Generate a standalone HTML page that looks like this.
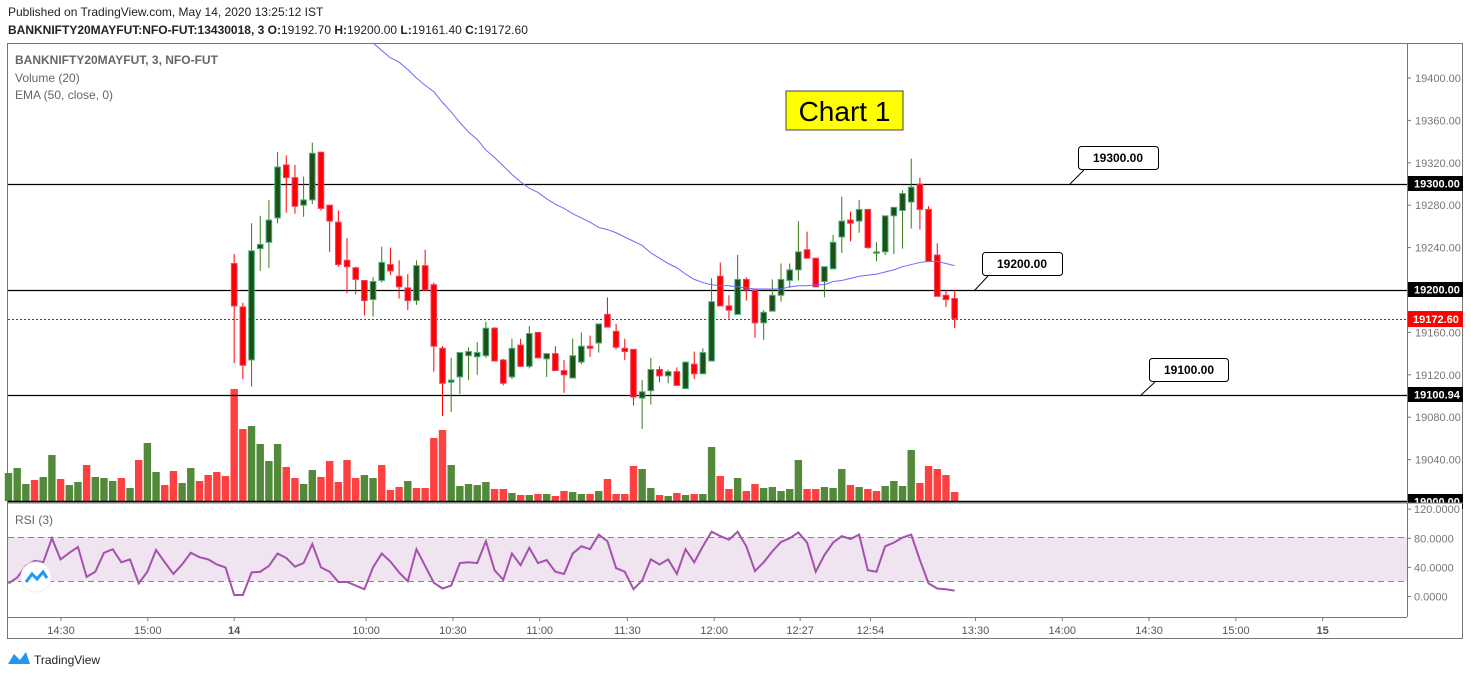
<!DOCTYPE html>
<html><head><meta charset="utf-8">
<style>
body{margin:0;background:#fff;width:1471px;height:678px;overflow:hidden;font-family:"Liberation Sans",sans-serif;}
svg{position:absolute;left:0;top:0}
</style></head>
<body>
<svg id="chart" width="1471" height="678" viewBox="0 0 1471 678" font-family="Liberation Sans, sans-serif">
  <text x="8" y="16" font-size="12" fill="#222">Published on TradingView.com, May 14, 2020 13:25:12 IST</text>
  <text x="8" y="34" font-size="12" font-weight="bold" fill="#222">BANKNIFTY20MAYFUT:NFO-FUT:13430018, 3 <tspan font-weight="bold">O:</tspan><tspan font-weight="normal">19192.70 </tspan>H:<tspan font-weight="normal">19200.00 </tspan>L:<tspan font-weight="normal">19161.40 </tspan>C:<tspan font-weight="normal">19172.60</tspan></text>
  <rect x="7.5" y="43.5" width="1455" height="595" fill="none" stroke="#777" stroke-width="1"/>
  <rect x="8" y="537" width="1399" height="44" fill="#f0e4f1"/>
  <line x1="8" y1="537.5" x2="1407" y2="537.5" stroke="#888" stroke-dasharray="6,4"/>
  <line x1="8" y1="581.5" x2="1407" y2="581.5" stroke="#888" stroke-dasharray="6,4"/>
  <g id="vol"></g>
  <g id="hlines"></g>
  <g id="candles"></g>
  <polyline id="ema" fill="none" stroke="#6a6aff" stroke-width="1"/>
  <polyline id="rsi" fill="none" stroke="#a452ac" stroke-width="2"/>
  <g id="yticks" font-size="11" fill="#777"></g>
  <rect x="1408" y="503.5" width="54" height="113" fill="#fff"/>
  <g id="rticks" font-size="11" fill="#777"></g>
  <g id="xticks" font-size="11" fill="#555"></g>
  <line x1="1407.5" y1="43" x2="1407.5" y2="617" stroke="#777"/>
  <line x1="7" y1="503" x2="1463" y2="503" stroke="#777"/>
  <line x1="7" y1="617.5" x2="1407" y2="617.5" stroke="#777"/>
  <text x="15" y="64" font-size="12" font-weight="bold" fill="#666">BANKNIFTY20MAYFUT, 3, NFO-FUT</text>
  <text x="15" y="82" font-size="12" fill="#666">Volume (20)</text>
  <text x="15" y="99" font-size="12" fill="#666">EMA (50, close, 0)</text>
  <text x="15" y="524" font-size="12" fill="#666">RSI (3)</text>
  <g>
    <rect x="786" y="91" width="117" height="39" fill="#ffff00" stroke="#444"/>
    <text x="844.5" y="121" font-size="28" text-anchor="middle" fill="#000">Chart 1</text>
  </g>
  <g>
    <line x1="1070" y1="184" x2="1084" y2="170" stroke="#000"/>
    <rect x="1078.5" y="146.5" width="80" height="23" rx="3" fill="#fff" stroke="#000"/>
    <text x="1118" y="162" font-size="12" font-weight="bold" text-anchor="middle">19300.00</text>
  </g>
  <g>
    <line x1="974" y1="291" x2="988" y2="276" stroke="#000"/>
    <rect x="982.5" y="252.5" width="80" height="23" rx="3" fill="#fff" stroke="#000"/>
    <text x="1022" y="268" font-size="12" font-weight="bold" text-anchor="middle">19200.00</text>
  </g>
  <g>
    <line x1="1140" y1="396" x2="1155" y2="382" stroke="#000"/>
    <rect x="1149.5" y="358.5" width="79" height="23" rx="3" fill="#fff" stroke="#000"/>
    <text x="1189" y="374" font-size="12" font-weight="bold" text-anchor="middle">19100.00</text>
  </g>
  <g>
    <circle cx="36" cy="577" r="15" fill="#fff" stroke="#eee"/>
    <path d="M26 582 L32 574 L37 579 L43 572 L47 578" fill="none" stroke="#2196f3" stroke-width="3"/>
  </g>
  <g>
    <path d="M8 664 L14 654 L20 660 L26 652 L30 664 Z" fill="#2196f3"/>
    <text x="34" y="664" font-size="12" fill="#222">TradingView</text>
  </g>
</svg>
<script>
// ---- data ----
const opens  = [19225,19184,19134,19239,19245,19268,19318,19306,19280,19285,19330,19280,19264,19228,19221,19209,19191,19209,19224,19213,19202,19190,19223,19205,19145,19113,19118,19138,19137,19138,19164,19134,19118,19148,19128,19160,19135,19140,19124,19117,19132,19147,19150,19177,19161,19145,19144,19098,19105,19125,19119,19123,19107,19130,19121,19133,19213,19185,19177,19210,19200,19169,19180,19195,19209,19219,19238,19230,19208,19220,19250,19266,19265,19276,19236,19236,19270,19275,19283,19300,19276,19233,19195,19192];
const highs  = [19234,19188,19263,19270,19285,19330,19327,19318,19307,19339,19330,19280,19275,19249,19222,19209,19212,19241,19240,19228,19215,19228,19238,19207,19147,19136,19141,19146,19151,19170,19165,19135,19154,19154,19166,19160,19140,19147,19134,19154,19160,19157,19168,19193,19168,19154,19144,19115,19136,19128,19125,19127,19132,19142,19145,19211,19226,19195,19233,19212,19200,19181,19210,19225,19225,19265,19255,19230,19222,19252,19288,19274,19285,19276,19245,19245,19276,19294,19324,19306,19279,19244,19200,19200];
const lows   = [19131,19116,19109,19218,19221,19263,19273,19272,19269,19281,19275,19236,19222,19197,19196,19176,19175,19207,19214,19192,19181,19186,19200,19123,19081,19085,19102,19115,19120,19136,19133,19110,19116,19128,19126,19136,19118,19124,19103,19117,19130,19137,19141,19165,19144,19134,19091,19069,19092,19113,19112,19115,19107,19116,19121,19133,19185,19173,19177,19190,19155,19153,19180,19189,19202,19209,19230,19203,19193,19220,19235,19246,19254,19239,19227,19233,19234,19239,19258,19257,19262,19215,19184,19164];
const closes = [19185,19129,19237,19243,19266,19316,19306,19279,19285,19329,19277,19265,19224,19222,19210,19190,19208,19226,19218,19203,19190,19223,19200,19147,19112,19115,19141,19142,19141,19164,19133,19112,19145,19128,19159,19136,19140,19124,19120,19138,19147,19145,19168,19165,19146,19142,19099,19104,19125,19119,19123,19110,19132,19121,19141,19189,19185,19181,19210,19200,19169,19179,19195,19210,19219,19236,19230,19203,19222,19245,19265,19263,19276,19240,19236,19270,19278,19291,19297,19276,19227,19194,19191,19173];
const volumes = [28,33,17,21,24,46,22,16,19,36,24,23,20,23,13,41,58,29,16,30,18,33,20,26,29,25,112,72,75,57,40,57,34,23,17,31,24,40,19,41,23,26,23,36,11,14,20,13,13,63,71,36,15,17,16,19,12,12,8,6,6,7,7,5,10,9,7,7,10,22,7,7,35,32,13,6,5,8,6,7,7,54,25,12,23,10,17,13,14,10,12,41,12,12,14,13,32,16,14,12,10,15,20,15,51,18,35,32,26,9];
const volUp = [1,1,1,0,1,1,0,1,1,0,1,1,1,0,1,0,1,1,0,0,1,1,0,0,0,0,0,0,1,1,1,1,0,0,1,1,0,0,0,0,0,1,1,0,0,0,1,0,0,0,0,1,1,1,1,1,0,0,1,0,1,0,1,0,0,1,1,0,1,0,0,0,0,1,1,0,1,0,1,0,1,1,0,0,1,0,0,1,1,1,1,1,0,0,1,1,1,0,1,0,0,1,1,1,1,0,0,0,0,0];
const emaStart = 42;
const emaValues = [19433,19426,19419,19415,19408,19400,19393,19387,19377,19368,19358,19349,19342,19332,19325,19317,19309,19302,19296,19292,19286,19281,19277,19272,19268,19264,19259,19257,19254,19250,19246,19242,19235,19230,19225,19221,19215,19210,19207,19205,19204,19204,19203,19202,19201,19201,19201,19201,19203,19204,19204,19205,19205,19208,19209,19211,19213,19214,19215,19217,19219,19222,19224,19226,19227,19227,19225,19223];
const rsiValues = [18,26,42,49,47,80,51,60,68,27,34,60,65,47,51,18,34,64,47,31,44,60,54,51,44,40,2,2,33,34,42,59,53,41,46,72,40,34,20,20,15,10,40,59,48,33,21,65,42,19,11,15,46,47,46,76,36,23,59,43,67,46,50,34,31,59,69,65,85,76,39,34,10,22,51,44,51,31,65,47,69,89,83,78,89,69,35,47,62,75,80,88,74,34,57,74,83,79,85,36,34,69,74,81,85,50,18,11,10,8];
const priceTicks = [19400,19360,19320,19280,19240,19160,19120,19080,19040];
const markedLevels = ["19300.00","19200.00","19100.94","19000.00"];
const lastPrice = 19172.60;
const rsiTicks = [120,80,40,0];
const timeLabels = ["14:30","15:00","14","10:00","10:30","11:00","11:30","12:00","12:27","12:54","13:30","14:00","14:30","15:00","15"];
const timeIdx = [6.05,16.05,26,41.2,51.2,61.2,71.3,81.3,91.2,99.3,111.4,121.4,131.4,141.4,151.4];
const candleStart = 26;

// ---- scales ----
const NS='http://www.w3.org/2000/svg';
const xOf = i => 8.5 + i*8.68;
const yP = p => 184 + (19300 - p)*1.06;
const yV = v => 501 - v;
const yR = r => 596 + (0 - r)*0.728 + 0.5;
function mk(tag, attrs, parent){const e=document.createElementNS(NS,tag);for(const k in attrs)e.setAttribute(k,attrs[k]);parent.appendChild(e);return e;}

const vol=document.getElementById('vol');
volumes.forEach((v,i)=>{
  const r=mk('rect',{x:xOf(i)-3.7,y:yV(v),width:7.4,height:v,fill:volUp[i]?'#53893a':'#ff4040'},vol);
  
  
});

const hl=document.getElementById('hlines');
[19300,19200,19100.94].forEach(p=>{
  const l=mk('line',{x1:8,x2:1407,y1:Math.round(yP(p))+0.5,y2:Math.round(yP(p))+0.5,stroke:'#000','stroke-width':1.2},hl);
  
  
});
const ll=mk('line',{x1:8,x2:1407,y1:Math.round(yP(lastPrice))+0.5,y2:Math.round(yP(lastPrice))+0.5,stroke:'#e00','stroke-dasharray':'2,2'},hl);


const bl=mk('line',{x1:8,x2:1407,y1:501.5,y2:501.5,stroke:'#000','stroke-width':1.5},hl);



const cg=document.getElementById('candles');
opens.forEach((o,k)=>{
  const i=k+candleStart, x=xOf(i), c=closes[k], up=c>=o;
  const g=mk('g',{},cg);
  
  
  mk('line',{x1:x,x2:x,y1:yP(highs[k]),y2:yP(lows[k]),stroke:up?'#3a7a1a':'#ff0000','stroke-width':1},g);
  const top=yP(Math.max(o,c)), h=Math.max(1.5,Math.abs(yP(o)-yP(c)));
  mk('rect',{x:x-2.8,y:top,width:5.6,height:h,fill:up?'#1e4f14':'#ff0000',stroke:up?'#4caf7a':'#f04060','stroke-width':1},g);
});

document.getElementById('ema').setAttribute('points',emaValues.map((v,j)=>xOf(j+emaStart)+','+yP(v)).join(' '));
document.getElementById('rsi').setAttribute('points',rsiValues.map((v,i)=>xOf(i)+','+yR(v)).join(' '));

const yt=document.getElementById('yticks');
priceTicks.forEach(p=>{
  const y=yP(p);
  mk('line',{x1:1407,x2:1411,y1:y,y2:y,stroke:'#777'},yt);
  const t=mk('text',{x:1415,y:y+4},yt); t.textContent=p.toFixed(2);
  
  
});
markedLevels.forEach(s=>{
  const p=parseFloat(s), y=yP(p);
  const top=Math.min(y-8,494);
  mk('rect',{x:1407,y:top,width:56,height:15,fill:'#000'},yt);
  const t=mk('text',{x:1414,y:top+11.5,fill:'#fff','font-weight':'bold'},yt); t.textContent=s;
  
  
});
{
  const y=yP(lastPrice);
  mk('rect',{x:1407,y:y-8,width:56,height:16,fill:'#ff0000'},yt);
  const t=mk('text',{x:1413,y:y+4,fill:'#fff','font-weight':'bold'},yt); t.textContent=lastPrice.toFixed(2);
  
  
}
const rt=document.getElementById('rticks');
rsiTicks.forEach(r=>{
  const y=Math.min(yR(r),596.5);
  mk('line',{x1:1407,x2:1411,y1:y,y2:y,stroke:'#777'},rt);
  const t=mk('text',{x:1414,y:y+4},rt); t.textContent=r.toFixed(4);
  
  
});
const xt=document.getElementById('xticks');
timeLabels.forEach((s,j)=>{
  const x=xOf(timeIdx[j]);
  mk('line',{x1:x,x2:x,y1:617,y2:621,stroke:'#777'},xt);
  const bold=(s==='14'||s==='15');
  const t=mk('text',{x:x,y:634,'text-anchor':'middle','font-weight':bold?'bold':'normal'},xt); t.textContent=s;
  
  
});
</script>
</body></html>
